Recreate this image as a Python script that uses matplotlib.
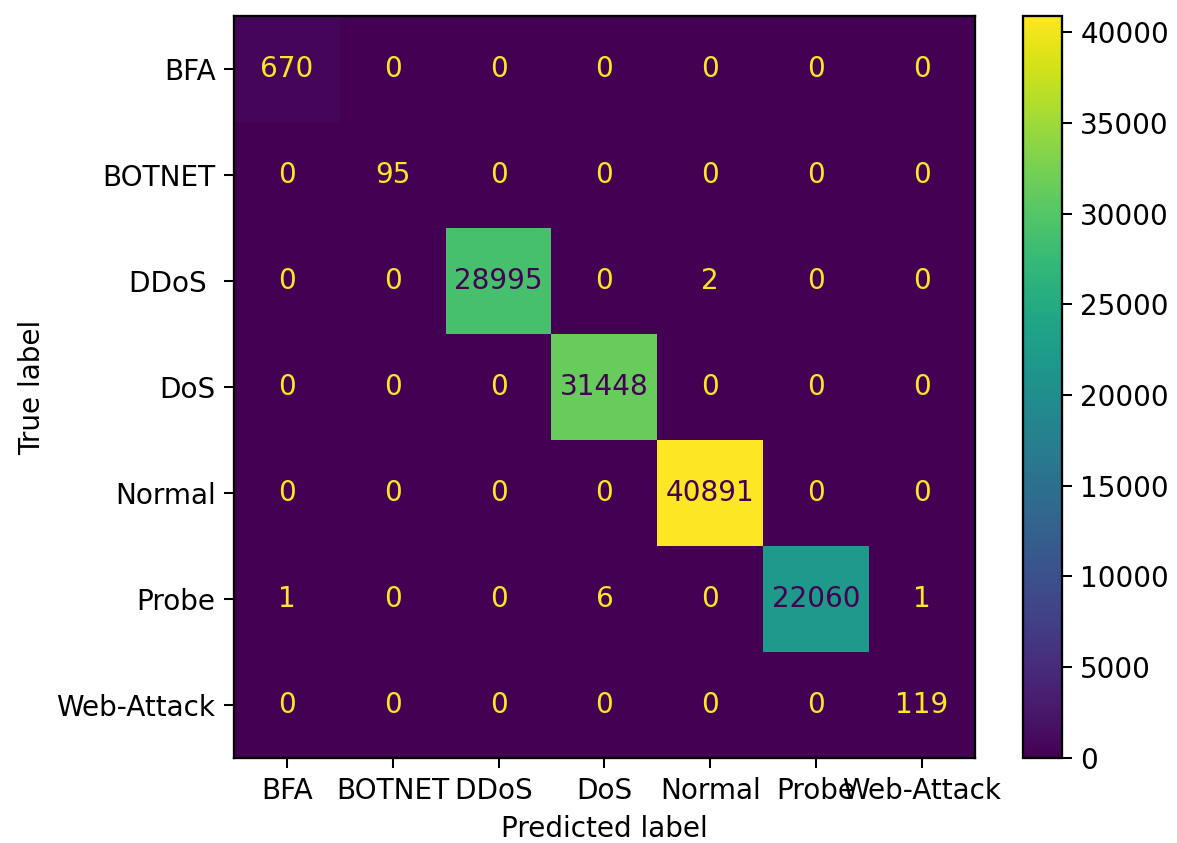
import numpy as np
import matplotlib
matplotlib.use("Agg")
import matplotlib.pyplot as plt

# class labels (note trailing space on DDoS as in the original)
labels = ["BFA", "BOTNET", "DDoS ", "DoS", "Normal", "Probe", "Web-Attack"]

# confusion matrix rows = true label, cols = predicted label
row_bfa = [670, 0, 0, 0, 0, 0, 0]
row_botnet = [0, 95, 0, 0, 0, 0, 0]
row_ddos = [0, 0, 28995, 0, 2, 0, 0]
row_dos = [0, 0, 0, 31448, 0, 0, 0]
row_normal = [0, 0, 0, 0, 40891, 0, 0]
row_probe = [1, 0, 0, 6, 0, 22060, 1]
row_web = [0, 0, 0, 0, 0, 0, 119]

cm = np.array([row_bfa, row_botnet, row_ddos, row_dos, row_normal, row_probe, row_web])

plt.rcParams["font.size"] = 10.9
plt.rcParams["xtick.major.size"] = 3.8
plt.rcParams["ytick.major.size"] = 3.8
plt.rcParams["axes.linewidth"] = 0.9

fig = plt.figure(figsize=(1177 / 184, 843 / 184), dpi=184)
ax = fig.add_axes([0.199, 0.101, 0.629, 0.88])
cax = fig.add_axes([0.869, 0.101, 0.033, 0.88])

cmap = plt.get_cmap("viridis")
im = ax.imshow(cm, cmap=cmap, interpolation="nearest", aspect="auto")
fig.colorbar(im, cax=cax)

# text colour flips at half of the max, like sklearn does
thresh = (cm.max() + cm.min()) / 2.0
for i in range(cm.shape[0]):
    for j in range(cm.shape[1]):
        color = cmap(0) if cm[i, j] >= thresh else cmap(1.0)
        ax.text(j, i, str(cm[i, j]), ha="center", va="center", color=color)

ax.set_xticks(range(len(labels)))
ax.set_yticks(range(len(labels)))
ax.set_xticklabels(labels)
ax.set_yticklabels(labels)
ax.set_xlabel("Predicted label")
ax.set_ylabel("True label")

fig.savefig("out.png", dpi=184)
